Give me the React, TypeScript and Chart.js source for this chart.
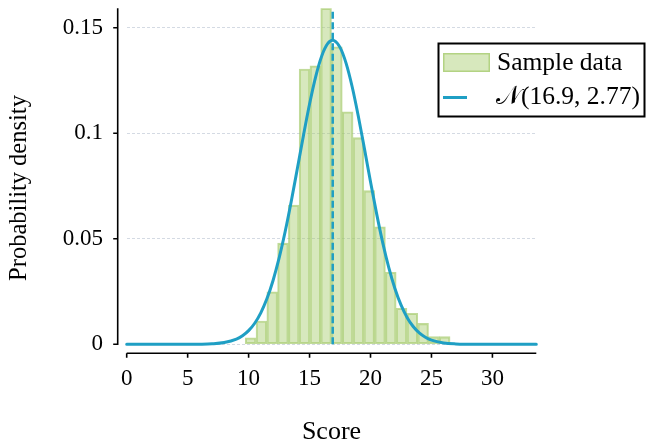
import React, { useEffect, useRef } from 'react';
import { Chart, registerables } from 'chart.js';

Chart.register(...registerables);

// ---- data ----
const BIN_START = 0;
const BIN_COUNT = 38;
const X_MIN = 0;
const X_MAX = 33.6;
const BIN_WIDTH = (X_MAX - BIN_START) / BIN_COUNT;
const DENSITY = [
  0, 0, 0, 0, 0, 0, 0, 0, 0, 0, 0,
  0.0031, 0.011, 0.0249, 0.0479, 0.066, 0.1304, 0.132, 0.1592, 0.141, 0.1102,
  0.0979, 0.0728, 0.0557, 0.0341, 0.0171, 0.0147, 0.0099, 0.0036, 0.0036,
  0, 0, 0, 0, 0, 0, 0, 0,
];
const CURVE_X = [
  0, 1, 2, 3, 4, 5, 6, 7, 8, 9, 9.5, 10, 10.5, 11, 11.5, 12, 12.5, 13, 13.5, 14, 14.5,
  15, 15.5, 16, 16.5, 16.9, 17, 17.5, 18, 18.5, 19, 19.5, 20, 20.5, 21, 21.5, 22, 22.5,
  23, 23.5, 24, 24.5, 25, 26, 27, 28, 29, 30, 31, 32, 33, 33.6,
];
const CURVE_Y = [
  0, 0, 0.0000001, 0.0000005, 0.0000028, 0.0000142, 0.000063, 0.000242, 0.000825, 0.002466,
  0.004064, 0.006473, 0.009986, 0.01491, 0.02154, 0.03013, 0.04079, 0.05345, 0.06781, 0.08327,
  0.09896, 0.11384, 0.12676, 0.13663, 0.14254, 0.14403, 0.14394, 0.14069, 0.13311, 0.1219,
  0.10805, 0.09272, 0.077, 0.0619, 0.04816, 0.03628, 0.02645, 0.01866, 0.01275, 0.008429,
  0.005394, 0.003342, 0.002003, 0.000653, 0.000187, 0.00005, 0.00001, 0, 0, 0, 0, 0,
];
const MEAN = 16.9;
const SD = 2.77;
const Y_MAX = 0.1592;
const X_TICK_STEP = 5;
const Y_TICK_STEP = 0.05;
const X_LABEL = 'Score';
const Y_LABEL = 'Probability density';
const HIST_LABEL = 'Sample data';
const FIT_LABEL = `\u{1D4A9}(${MEAN}, ${SD})`;

// ---- style ----
const FONT = "'Liberation Serif', 'DejaVu Serif', serif";
const BLUE = '#1f9fc4';
const FILL = 'rgba(165,203,105,0.44)';
const EDGE = 'rgba(160,200,100,0.65)';
const SPINE_OFFSET = 9;

const spinesPlugin = {
  id: 'spines',
  afterDraw(chart: any) {
    const { ctx } = chart;
    const xs = chart.scales.x;
    const ys = chart.scales.y;
    const x0 = xs.getPixelForValue(X_MIN);
    const x1 = xs.getPixelForValue(X_MAX);
    const y0 = ys.getPixelForValue(0);
    const y1 = ys.getPixelForValue(Y_MAX);
    const sx = x0 - SPINE_OFFSET;
    const sy = y0 + SPINE_OFFSET;
    ctx.save();
    ctx.strokeStyle = '#000';
    ctx.lineWidth = 1.6;
    ctx.beginPath();
    ctx.moveTo(sx, y1);
    ctx.lineTo(sx, y0 + 0.8);
    ys.ticks.forEach((t: any) => {
      const p = ys.getPixelForValue(t.value);
      ctx.moveTo(sx - 4.5, p);
      ctx.lineTo(sx, p);
    });
    ctx.moveTo(x0, sy);
    ctx.lineTo(x1, sy);
    xs.ticks.forEach((t: any) => {
      const p = xs.getPixelForValue(t.value);
      ctx.moveTo(p, sy);
      ctx.lineTo(p, sy + 4.5);
    });
    ctx.stroke();
    // axis titles
    ctx.fillStyle = '#000';
    ctx.textAlign = 'center';
    ctx.textBaseline = 'middle';
    ctx.font = `26px ${FONT}`;
    ctx.fillText(X_LABEL, (x0 + x1) / 2, 432);
    ctx.save();
    ctx.translate(20, 188);
    ctx.rotate(-Math.PI / 2);
    ctx.font = `24.5px ${FONT}`;
    ctx.fillText(Y_LABEL, 0, 0);
    ctx.restore();
    ctx.restore();
  },
};

const legendPlugin = {
  id: 'boxLegend',
  afterDraw(chart: any) {
    const { ctx } = chart;
    const left = 438.5;
    const top = 43.5;
    const w = 206;
    const h = 73;
    ctx.save();
    ctx.fillStyle = '#fff';
    ctx.fillRect(left, top, w, h);
    ctx.strokeStyle = '#000';
    ctx.lineWidth = 2;
    ctx.strokeRect(left, top, w, h);
    // hist swatch
    ctx.fillStyle = FILL;
    ctx.fillRect(443, 53, 47, 19);
    ctx.strokeStyle = EDGE;
    ctx.lineWidth = 1.5;
    ctx.strokeRect(443.75, 53.75, 45.5, 17.5);
    // line swatch
    ctx.strokeStyle = BLUE;
    ctx.lineWidth = 3;
    ctx.beginPath();
    ctx.moveTo(443, 97.5);
    ctx.lineTo(467, 97.5);
    ctx.stroke();
    ctx.fillStyle = '#000';
    ctx.font = `25.5px ${FONT}`;
    ctx.textBaseline = 'middle';
    ctx.textAlign = 'left';
    ctx.fillText(HIST_LABEL, 497, 63);
    ctx.fillText(FIT_LABEL, 496, 97.5);
    ctx.restore();
  },
};

export default function App() {
  const ref = useRef<HTMLCanvasElement | null>(null);
  useEffect(() => {
    if (!ref.current) return;
    const chart = new Chart(ref.current, {
      type: 'bar',
      data: {
        datasets: [
          {
            type: 'line',
            label: 'mean',
            data: [
              { x: MEAN, y: 0 },
              { x: MEAN, y: Y_MAX },
            ],
            borderColor: BLUE,
            borderWidth: 2.5,
            borderDash: [7, 3.5],
            pointRadius: 0,
            order: 1,
            clip: false,
          } as any,
          {
            type: 'line',
            label: FIT_LABEL,
            data: CURVE_X.map((x, i) => ({ x, y: CURVE_Y[i] })),
            borderColor: BLUE,
            borderWidth: 3,
            pointRadius: 0,
            cubicInterpolationMode: 'monotone',
            borderCapStyle: 'round',
            order: 2,
            clip: false,
          } as any,
          {
            type: 'bar',
            label: HIST_LABEL,
            data: DENSITY.map((y, i) => ({ x: BIN_START + (i + 0.5) * BIN_WIDTH, y })),
            backgroundColor: FILL,
            borderColor: EDGE,
            borderWidth: 1.4,
            borderSkipped: false,
            barPercentage: 1,
            categoryPercentage: 1,
            order: 3,
          } as any,
        ],
      },
      options: {
        animation: false,
        responsive: false,
        layout: { padding: { left: 0, top: 8.3, right: 111.7, bottom: 0 } },
        plugins: { legend: { display: false }, tooltip: { enabled: false } },
        scales: {
          x: {
            type: 'linear',
            min: X_MIN,
            max: X_MAX,
            offset: false,
            afterFit: (s: any) => {
              s.height = 100.7;
              s.paddingLeft = 0;
              s.paddingRight = 0;
            },
            grid: { display: false, offset: false },
            border: { display: false },
            ticks: {
              stepSize: X_TICK_STEP,
              includeBounds: false,
              padding: 13,
              color: '#000',
              maxRotation: 0,
              font: { family: FONT, size: 23 },
            },
          },
          y: {
            min: 0,
            max: Y_MAX,
            afterFit: (s: any) => {
              s.width = 126.7;
              s.paddingTop = 0;
              s.paddingBottom = 0;
            },
            grid: { color: '#d4dae3', lineWidth: 1, drawTicks: false },
            border: { display: false, dash: [3, 2] },
            ticks: {
              stepSize: Y_TICK_STEP,
              includeBounds: false,
              padding: 23.7,
              color: '#000',
              font: { family: FONT, size: 23 },
              callback: (v: any) => String(Number(Number(v).toFixed(3))),
            },
          },
        },
      } as any,
      plugins: [spinesPlugin, legendPlugin],
    });
    return () => chart.destroy();
  }, []);
  return (
    <div style={{ position: 'absolute', left: 0, top: 0, width: 648, height: 445, background: '#fff' }}>
      <canvas ref={ref} width={648} height={445} style={{ display: 'block' }} />
    </div>
  );
}
